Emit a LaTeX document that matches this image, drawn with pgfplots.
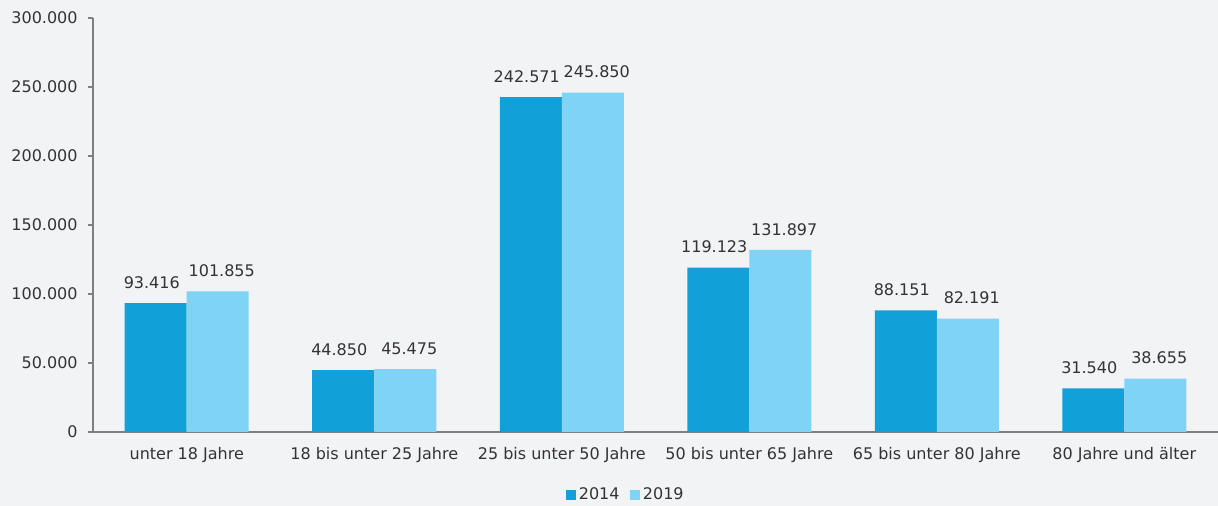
\documentclass[border=0pt]{standalone}
\usepackage{fontspec}
\setmainfont{DejaVu Sans}
\usepackage{pgfplots}
\pgfplotsset{compat=1.18}
\definecolor{bg}{HTML}{F2F3F5}
\definecolor{cA}{HTML}{12A0D9}
\definecolor{cB}{HTML}{7FD3F5}
\definecolor{axc}{HTML}{7F7F7F}
\definecolor{txt}{HTML}{333333}
\begin{document}
\begin{tikzpicture}[font=\fontsize{12}{14}\selectfont]
\path[use as bounding box, fill=bg] (-69.75pt,-55.5pt) rectangle (843.75pt,324pt);
\begin{axis}[
  scale only axis,
  width=843.75pt, height=310.5pt,
  ybar=0pt, bar width=46.5pt,
  xmin=-0.5, xmax=5.5,
  ymin=0, ymax=300000,
  xtick=data,
  xticklabels={unter 18 Jahre, 18 bis unter 25 Jahre, 25 bis unter 50 Jahre, 50 bis unter 65 Jahre, 65 bis unter 80 Jahre, 80 Jahre und älter},
  ytick={0,50000,100000,150000,200000,250000,300000},
  scaled y ticks=false,
  yticklabel style={/tikz/xshift=-4pt, /pgf/number format/.cd, fixed, precision=0, 1000 sep={.}, assume math mode=true},
  axis x line*=bottom, axis y line*=left,
  axis line style={draw=axc, line width=1.5pt, -},
  x tick style={draw=none},
  y tick style={draw=axc, line width=1.1pt},
  tick align=outside, major tick length=4pt,
  tick label style={text=txt, font=\fontsize{12}{14}\selectfont},
  xticklabel style={/tikz/yshift=-4pt},
  nodes near coords,
  every node near coord/.append style={text=txt, font=\fontsize{12}{14}\selectfont, yshift=7.5pt, /pgf/number format/.cd, fixed, precision=0, 1000 sep={.}, assume math mode=true},
  nodes near coords align={vertical},
  legend style={at={(0.474,-0.152)}, anchor=center, draw=none, fill=none, legend columns=2, text=txt, font=\fontsize{12}{14}\selectfont, /tikz/every even column/.append style={column sep=6pt}},
  legend image code/.code={\fill[#1, draw=none] (0pt,-3.6pt) rectangle (7.5pt,3.9pt);},
]
\addplot[fill=cA, draw=none, every node near coord/.append style={/tikz/xshift=-3pt}] coordinates {(0,93416) (1,44850) (2,242571) (3,119123) (4,88151) (5,31540)};
\addplot[fill=cB, draw=none, every node near coord/.append style={/tikz/xshift=3pt}] coordinates {(0,101855) (1,45475) (2,245850) (3,131897) (4,82191) (5,38655)};
\legend{2014,2019}
\end{axis}
\end{tikzpicture}
\end{document}
